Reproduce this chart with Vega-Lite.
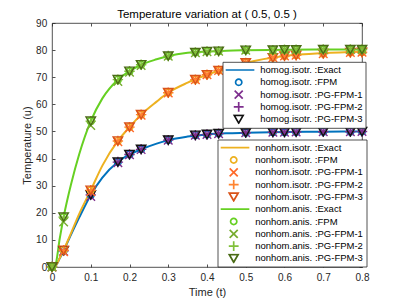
{
  "$schema": "https://vega.github.io/schema/vega-lite/v6.json",
  "width": 310,
  "height": 244,
  "autosize": {"type": "none"},
  "padding": {"left": 52, "top": 23, "right": 37, "bottom": 33},
  "background": "white",
  "title": {"text": "Temperature variation at ( 0.5, 0.5 )", "fontSize": 11.5, "fontWeight": "normal", "font": "Liberation Sans", "color": "#000000", "offset": -2, "anchor": "middle"},
  "config": {
    "font": "Liberation Sans",
    "view": {"stroke": "#262626", "strokeWidth": 0.8},
    "axis": {"grid": false, "domain": false, "tickSize": -3, "tickColor": "#262626", "tickWidth": 0.8, "labelFlush": false, "labelFont": "Liberation Sans", "labelFontSize": 10, "labelColor": "#262626", "titleFont": "Liberation Sans", "titleFontSize": 11, "titleFontWeight": "normal", "titleColor": "#262626"},
    "legend": {"orient": "none", "padding": 3, "strokeColor": "#262626", "strokeWidth": 0.8, "fillColor": "white", "labelFont": "Liberation Sans", "labelFontSize": 9.5, "labelColor": "#000000", "symbolStrokeWidth": 1.7, "symbolSize": 80, "rowPadding": 2.3, "clipHeight": 10, "labelOffset": 16, "symbolOffset": 7.5, "cornerRadius": 0, "labelLimit": 300}
  },
  "datasets": {
    "exact": [
      {"g": "h", "t": 0, "v": 0}, {"g": "h", "t": 0.008, "v": 0.3}, {"g": "h", "t": 0.02, "v": 3.2}, {"g": "h", "t": 0.03, "v": 6.0}, {"g": "h", "t": 0.05, "v": 12.2}, {"g": "h", "t": 0.07, "v": 18.2}, {"g": "h", "t": 0.1, "v": 26.6}, {"g": "h", "t": 0.13, "v": 33.0}, {"g": "h", "t": 0.17, "v": 38.7}, {"g": "h", "t": 0.2, "v": 41.5}, {"g": "h", "t": 0.23, "v": 43.4}, {"g": "h", "t": 0.27, "v": 45.5}, {"g": "h", "t": 0.3, "v": 46.8}, {"g": "h", "t": 0.35, "v": 48.1}, {"g": "h", "t": 0.4, "v": 48.9}, {"g": "h", "t": 0.45, "v": 49.3}, {"g": "h", "t": 0.5, "v": 49.5}, {"g": "h", "t": 0.6, "v": 49.8}, {"g": "h", "t": 0.7, "v": 49.9}, {"g": "h", "t": 0.8, "v": 50.0},
      {"g": "ni", "t": 0, "v": 0}, {"g": "ni", "t": 0.008, "v": 0.3}, {"g": "ni", "t": 0.02, "v": 3.3}, {"g": "ni", "t": 0.03, "v": 6.2}, {"g": "ni", "t": 0.05, "v": 12.8}, {"g": "ni", "t": 0.07, "v": 19.5}, {"g": "ni", "t": 0.1, "v": 28.3}, {"g": "ni", "t": 0.13, "v": 37.4}, {"g": "ni", "t": 0.17, "v": 46.5}, {"g": "ni", "t": 0.2, "v": 51.6}, {"g": "ni", "t": 0.23, "v": 56.2}, {"g": "ni", "t": 0.27, "v": 61.0}, {"g": "ni", "t": 0.3, "v": 64.3}, {"g": "ni", "t": 0.35, "v": 68.0}, {"g": "ni", "t": 0.4, "v": 70.9}, {"g": "ni", "t": 0.45, "v": 73.3}, {"g": "ni", "t": 0.5, "v": 75.3}, {"g": "ni", "t": 0.6, "v": 77.8}, {"g": "ni", "t": 0.7, "v": 78.9}, {"g": "ni", "t": 0.8, "v": 79.4},
      {"g": "na", "t": 0, "v": 0}, {"g": "na", "t": 0.008, "v": 0.5}, {"g": "na", "t": 0.02, "v": 10.5}, {"g": "na", "t": 0.03, "v": 18.4}, {"g": "na", "t": 0.05, "v": 31.0}, {"g": "na", "t": 0.07, "v": 41.5}, {"g": "na", "t": 0.1, "v": 53.8}, {"g": "na", "t": 0.13, "v": 62.2}, {"g": "na", "t": 0.17, "v": 69.1}, {"g": "na", "t": 0.2, "v": 72.2}, {"g": "na", "t": 0.23, "v": 74.6}, {"g": "na", "t": 0.27, "v": 76.6}, {"g": "na", "t": 0.3, "v": 77.8}, {"g": "na", "t": 0.35, "v": 79.0}, {"g": "na", "t": 0.4, "v": 79.5}, {"g": "na", "t": 0.45, "v": 79.8}, {"g": "na", "t": 0.5, "v": 79.95}, {"g": "na", "t": 0.6, "v": 80.1}, {"g": "na", "t": 0.7, "v": 80.2}, {"g": "na", "t": 0.8, "v": 80.2}
    ],
    "homog": [
      {"s": "homog.isotr. :FPM", "t": 0, "v": 0}, {"s": "homog.isotr. :FPM", "t": 0.03, "v": 6.0}, {"s": "homog.isotr. :FPM", "t": 0.1, "v": 26.6}, {"s": "homog.isotr. :FPM", "t": 0.17, "v": 38.7}, {"s": "homog.isotr. :FPM", "t": 0.2, "v": 41.5}, {"s": "homog.isotr. :FPM", "t": 0.23, "v": 43.4}, {"s": "homog.isotr. :FPM", "t": 0.3, "v": 46.8}, {"s": "homog.isotr. :FPM", "t": 0.37, "v": 48.6}, {"s": "homog.isotr. :FPM", "t": 0.4, "v": 48.9}, {"s": "homog.isotr. :FPM", "t": 0.43, "v": 49.2}, {"s": "homog.isotr. :FPM", "t": 0.5, "v": 49.5}, {"s": "homog.isotr. :FPM", "t": 0.57, "v": 49.7}, {"s": "homog.isotr. :FPM", "t": 0.6, "v": 49.7}, {"s": "homog.isotr. :FPM", "t": 0.63, "v": 49.8}, {"s": "homog.isotr. :FPM", "t": 0.7, "v": 49.9}, {"s": "homog.isotr. :FPM", "t": 0.77, "v": 49.9}, {"s": "homog.isotr. :FPM", "t": 0.8, "v": 50.0},
      {"s": "homog.isotr. :PG-FPM-1", "t": 0, "v": 0}, {"s": "homog.isotr. :PG-FPM-1", "t": 0.03, "v": 5.8}, {"s": "homog.isotr. :PG-FPM-1", "t": 0.1, "v": 26.0}, {"s": "homog.isotr. :PG-FPM-1", "t": 0.17, "v": 38.5}, {"s": "homog.isotr. :PG-FPM-1", "t": 0.2, "v": 41.4}, {"s": "homog.isotr. :PG-FPM-1", "t": 0.23, "v": 43.3}, {"s": "homog.isotr. :PG-FPM-1", "t": 0.3, "v": 46.8}, {"s": "homog.isotr. :PG-FPM-1", "t": 0.37, "v": 48.6}, {"s": "homog.isotr. :PG-FPM-1", "t": 0.4, "v": 48.9}, {"s": "homog.isotr. :PG-FPM-1", "t": 0.43, "v": 49.2}, {"s": "homog.isotr. :PG-FPM-1", "t": 0.5, "v": 49.5}, {"s": "homog.isotr. :PG-FPM-1", "t": 0.57, "v": 49.7}, {"s": "homog.isotr. :PG-FPM-1", "t": 0.6, "v": 49.7}, {"s": "homog.isotr. :PG-FPM-1", "t": 0.63, "v": 49.8}, {"s": "homog.isotr. :PG-FPM-1", "t": 0.7, "v": 49.9}, {"s": "homog.isotr. :PG-FPM-1", "t": 0.77, "v": 49.9}, {"s": "homog.isotr. :PG-FPM-1", "t": 0.8, "v": 50.0},
      {"s": "homog.isotr. :PG-FPM-2", "t": 0, "v": 0}, {"s": "homog.isotr. :PG-FPM-2", "t": 0.03, "v": 6.0}, {"s": "homog.isotr. :PG-FPM-2", "t": 0.1, "v": 26.6}, {"s": "homog.isotr. :PG-FPM-2", "t": 0.17, "v": 38.7}, {"s": "homog.isotr. :PG-FPM-2", "t": 0.2, "v": 41.5}, {"s": "homog.isotr. :PG-FPM-2", "t": 0.23, "v": 43.4}, {"s": "homog.isotr. :PG-FPM-2", "t": 0.3, "v": 46.8}, {"s": "homog.isotr. :PG-FPM-2", "t": 0.37, "v": 48.6}, {"s": "homog.isotr. :PG-FPM-2", "t": 0.4, "v": 48.9}, {"s": "homog.isotr. :PG-FPM-2", "t": 0.43, "v": 49.2}, {"s": "homog.isotr. :PG-FPM-2", "t": 0.5, "v": 49.5}, {"s": "homog.isotr. :PG-FPM-2", "t": 0.57, "v": 49.7}, {"s": "homog.isotr. :PG-FPM-2", "t": 0.6, "v": 49.7}, {"s": "homog.isotr. :PG-FPM-2", "t": 0.63, "v": 49.8}, {"s": "homog.isotr. :PG-FPM-2", "t": 0.7, "v": 49.9}, {"s": "homog.isotr. :PG-FPM-2", "t": 0.77, "v": 49.9}, {"s": "homog.isotr. :PG-FPM-2", "t": 0.8, "v": 50.0},
      {"s": "homog.isotr. :PG-FPM-3", "t": 0, "v": 0}, {"s": "homog.isotr. :PG-FPM-3", "t": 0.03, "v": 6.0}, {"s": "homog.isotr. :PG-FPM-3", "t": 0.1, "v": 26.6}, {"s": "homog.isotr. :PG-FPM-3", "t": 0.17, "v": 38.7}, {"s": "homog.isotr. :PG-FPM-3", "t": 0.2, "v": 41.5}, {"s": "homog.isotr. :PG-FPM-3", "t": 0.23, "v": 43.4}, {"s": "homog.isotr. :PG-FPM-3", "t": 0.3, "v": 46.8}, {"s": "homog.isotr. :PG-FPM-3", "t": 0.37, "v": 48.6}, {"s": "homog.isotr. :PG-FPM-3", "t": 0.4, "v": 48.9}, {"s": "homog.isotr. :PG-FPM-3", "t": 0.43, "v": 49.2}, {"s": "homog.isotr. :PG-FPM-3", "t": 0.5, "v": 49.5}, {"s": "homog.isotr. :PG-FPM-3", "t": 0.57, "v": 49.7}, {"s": "homog.isotr. :PG-FPM-3", "t": 0.6, "v": 49.7}, {"s": "homog.isotr. :PG-FPM-3", "t": 0.63, "v": 49.8}, {"s": "homog.isotr. :PG-FPM-3", "t": 0.7, "v": 49.9}, {"s": "homog.isotr. :PG-FPM-3", "t": 0.77, "v": 49.9}, {"s": "homog.isotr. :PG-FPM-3", "t": 0.8, "v": 50.0}
    ],
    "nonhom": [
      {"s": "nonhom.isotr. :FPM", "t": 0, "v": 0}, {"s": "nonhom.isotr. :FPM", "t": 0.03, "v": 6.2}, {"s": "nonhom.isotr. :FPM", "t": 0.1, "v": 28.3}, {"s": "nonhom.isotr. :FPM", "t": 0.17, "v": 46.5}, {"s": "nonhom.isotr. :FPM", "t": 0.2, "v": 51.6}, {"s": "nonhom.isotr. :FPM", "t": 0.23, "v": 56.2}, {"s": "nonhom.isotr. :FPM", "t": 0.3, "v": 64.3}, {"s": "nonhom.isotr. :FPM", "t": 0.37, "v": 69.1}, {"s": "nonhom.isotr. :FPM", "t": 0.4, "v": 70.9}, {"s": "nonhom.isotr. :FPM", "t": 0.43, "v": 72.5}, {"s": "nonhom.isotr. :FPM", "t": 0.5, "v": 75.3}, {"s": "nonhom.isotr. :FPM", "t": 0.57, "v": 77.2}, {"s": "nonhom.isotr. :FPM", "t": 0.6, "v": 77.8}, {"s": "nonhom.isotr. :FPM", "t": 0.63, "v": 78.1}, {"s": "nonhom.isotr. :FPM", "t": 0.7, "v": 78.7}, {"s": "nonhom.isotr. :FPM", "t": 0.77, "v": 79.1}, {"s": "nonhom.isotr. :FPM", "t": 0.8, "v": 79.2},
      {"s": "nonhom.isotr. :PG-FPM-1", "t": 0, "v": 0}, {"s": "nonhom.isotr. :PG-FPM-1", "t": 0.03, "v": 5.6}, {"s": "nonhom.isotr. :PG-FPM-1", "t": 0.1, "v": 27.8}, {"s": "nonhom.isotr. :PG-FPM-1", "t": 0.17, "v": 46.2}, {"s": "nonhom.isotr. :PG-FPM-1", "t": 0.2, "v": 51.4}, {"s": "nonhom.isotr. :PG-FPM-1", "t": 0.23, "v": 56.0}, {"s": "nonhom.isotr. :PG-FPM-1", "t": 0.3, "v": 64.2}, {"s": "nonhom.isotr. :PG-FPM-1", "t": 0.37, "v": 69.1}, {"s": "nonhom.isotr. :PG-FPM-1", "t": 0.4, "v": 70.9}, {"s": "nonhom.isotr. :PG-FPM-1", "t": 0.43, "v": 72.5}, {"s": "nonhom.isotr. :PG-FPM-1", "t": 0.5, "v": 75.3}, {"s": "nonhom.isotr. :PG-FPM-1", "t": 0.57, "v": 77.2}, {"s": "nonhom.isotr. :PG-FPM-1", "t": 0.6, "v": 77.8}, {"s": "nonhom.isotr. :PG-FPM-1", "t": 0.63, "v": 78.1}, {"s": "nonhom.isotr. :PG-FPM-1", "t": 0.7, "v": 78.7}, {"s": "nonhom.isotr. :PG-FPM-1", "t": 0.77, "v": 79.1}, {"s": "nonhom.isotr. :PG-FPM-1", "t": 0.8, "v": 79.2},
      {"s": "nonhom.isotr. :PG-FPM-2", "t": 0, "v": 0}, {"s": "nonhom.isotr. :PG-FPM-2", "t": 0.03, "v": 6.2}, {"s": "nonhom.isotr. :PG-FPM-2", "t": 0.1, "v": 28.3}, {"s": "nonhom.isotr. :PG-FPM-2", "t": 0.17, "v": 46.5}, {"s": "nonhom.isotr. :PG-FPM-2", "t": 0.2, "v": 51.6}, {"s": "nonhom.isotr. :PG-FPM-2", "t": 0.23, "v": 56.2}, {"s": "nonhom.isotr. :PG-FPM-2", "t": 0.3, "v": 64.3}, {"s": "nonhom.isotr. :PG-FPM-2", "t": 0.37, "v": 69.1}, {"s": "nonhom.isotr. :PG-FPM-2", "t": 0.4, "v": 70.9}, {"s": "nonhom.isotr. :PG-FPM-2", "t": 0.43, "v": 72.5}, {"s": "nonhom.isotr. :PG-FPM-2", "t": 0.5, "v": 75.3}, {"s": "nonhom.isotr. :PG-FPM-2", "t": 0.57, "v": 77.2}, {"s": "nonhom.isotr. :PG-FPM-2", "t": 0.6, "v": 77.8}, {"s": "nonhom.isotr. :PG-FPM-2", "t": 0.63, "v": 78.1}, {"s": "nonhom.isotr. :PG-FPM-2", "t": 0.7, "v": 78.7}, {"s": "nonhom.isotr. :PG-FPM-2", "t": 0.77, "v": 79.1}, {"s": "nonhom.isotr. :PG-FPM-2", "t": 0.8, "v": 79.2},
      {"s": "nonhom.isotr. :PG-FPM-3", "t": 0, "v": 0}, {"s": "nonhom.isotr. :PG-FPM-3", "t": 0.03, "v": 6.2}, {"s": "nonhom.isotr. :PG-FPM-3", "t": 0.1, "v": 28.3}, {"s": "nonhom.isotr. :PG-FPM-3", "t": 0.17, "v": 46.5}, {"s": "nonhom.isotr. :PG-FPM-3", "t": 0.2, "v": 51.6}, {"s": "nonhom.isotr. :PG-FPM-3", "t": 0.23, "v": 56.2}, {"s": "nonhom.isotr. :PG-FPM-3", "t": 0.3, "v": 64.3}, {"s": "nonhom.isotr. :PG-FPM-3", "t": 0.37, "v": 69.1}, {"s": "nonhom.isotr. :PG-FPM-3", "t": 0.4, "v": 70.9}, {"s": "nonhom.isotr. :PG-FPM-3", "t": 0.43, "v": 72.5}, {"s": "nonhom.isotr. :PG-FPM-3", "t": 0.5, "v": 75.3}, {"s": "nonhom.isotr. :PG-FPM-3", "t": 0.57, "v": 77.2}, {"s": "nonhom.isotr. :PG-FPM-3", "t": 0.6, "v": 77.8}, {"s": "nonhom.isotr. :PG-FPM-3", "t": 0.63, "v": 78.1}, {"s": "nonhom.isotr. :PG-FPM-3", "t": 0.7, "v": 78.7}, {"s": "nonhom.isotr. :PG-FPM-3", "t": 0.77, "v": 79.1}, {"s": "nonhom.isotr. :PG-FPM-3", "t": 0.8, "v": 79.2},
      {"s": "nonhom.anis. :FPM", "t": 0, "v": 0}, {"s": "nonhom.anis. :FPM", "t": 0.03, "v": 18.4}, {"s": "nonhom.anis. :FPM", "t": 0.1, "v": 53.8}, {"s": "nonhom.anis. :FPM", "t": 0.17, "v": 69.1}, {"s": "nonhom.anis. :FPM", "t": 0.2, "v": 72.2}, {"s": "nonhom.anis. :FPM", "t": 0.23, "v": 74.6}, {"s": "nonhom.anis. :FPM", "t": 0.3, "v": 77.8}, {"s": "nonhom.anis. :FPM", "t": 0.37, "v": 79.1}, {"s": "nonhom.anis. :FPM", "t": 0.4, "v": 79.5}, {"s": "nonhom.anis. :FPM", "t": 0.43, "v": 79.6}, {"s": "nonhom.anis. :FPM", "t": 0.5, "v": 79.95}, {"s": "nonhom.anis. :FPM", "t": 0.57, "v": 80.0}, {"s": "nonhom.anis. :FPM", "t": 0.6, "v": 80.1}, {"s": "nonhom.anis. :FPM", "t": 0.63, "v": 80.1}, {"s": "nonhom.anis. :FPM", "t": 0.7, "v": 80.2}, {"s": "nonhom.anis. :FPM", "t": 0.77, "v": 80.2}, {"s": "nonhom.anis. :FPM", "t": 0.8, "v": 80.2},
      {"s": "nonhom.anis. :PG-FPM-1", "t": 0, "v": 0}, {"s": "nonhom.anis. :PG-FPM-1", "t": 0.03, "v": 16.6}, {"s": "nonhom.anis. :PG-FPM-1", "t": 0.1, "v": 52.2}, {"s": "nonhom.anis. :PG-FPM-1", "t": 0.17, "v": 68.4}, {"s": "nonhom.anis. :PG-FPM-1", "t": 0.2, "v": 71.8}, {"s": "nonhom.anis. :PG-FPM-1", "t": 0.23, "v": 74.3}, {"s": "nonhom.anis. :PG-FPM-1", "t": 0.3, "v": 77.7}, {"s": "nonhom.anis. :PG-FPM-1", "t": 0.37, "v": 79.0}, {"s": "nonhom.anis. :PG-FPM-1", "t": 0.4, "v": 79.4}, {"s": "nonhom.anis. :PG-FPM-1", "t": 0.43, "v": 79.6}, {"s": "nonhom.anis. :PG-FPM-1", "t": 0.5, "v": 79.95}, {"s": "nonhom.anis. :PG-FPM-1", "t": 0.57, "v": 80.0}, {"s": "nonhom.anis. :PG-FPM-1", "t": 0.6, "v": 80.1}, {"s": "nonhom.anis. :PG-FPM-1", "t": 0.63, "v": 80.1}, {"s": "nonhom.anis. :PG-FPM-1", "t": 0.7, "v": 80.2}, {"s": "nonhom.anis. :PG-FPM-1", "t": 0.77, "v": 80.2}, {"s": "nonhom.anis. :PG-FPM-1", "t": 0.8, "v": 80.2},
      {"s": "nonhom.anis. :PG-FPM-2", "t": 0, "v": 0}, {"s": "nonhom.anis. :PG-FPM-2", "t": 0.03, "v": 18.4}, {"s": "nonhom.anis. :PG-FPM-2", "t": 0.1, "v": 53.8}, {"s": "nonhom.anis. :PG-FPM-2", "t": 0.17, "v": 69.1}, {"s": "nonhom.anis. :PG-FPM-2", "t": 0.2, "v": 72.2}, {"s": "nonhom.anis. :PG-FPM-2", "t": 0.23, "v": 74.6}, {"s": "nonhom.anis. :PG-FPM-2", "t": 0.3, "v": 77.8}, {"s": "nonhom.anis. :PG-FPM-2", "t": 0.37, "v": 79.1}, {"s": "nonhom.anis. :PG-FPM-2", "t": 0.4, "v": 79.5}, {"s": "nonhom.anis. :PG-FPM-2", "t": 0.43, "v": 79.6}, {"s": "nonhom.anis. :PG-FPM-2", "t": 0.5, "v": 79.95}, {"s": "nonhom.anis. :PG-FPM-2", "t": 0.57, "v": 80.0}, {"s": "nonhom.anis. :PG-FPM-2", "t": 0.6, "v": 80.1}, {"s": "nonhom.anis. :PG-FPM-2", "t": 0.63, "v": 80.1}, {"s": "nonhom.anis. :PG-FPM-2", "t": 0.7, "v": 80.2}, {"s": "nonhom.anis. :PG-FPM-2", "t": 0.77, "v": 80.2}, {"s": "nonhom.anis. :PG-FPM-2", "t": 0.8, "v": 80.2},
      {"s": "nonhom.anis. :PG-FPM-3", "t": 0, "v": 0}, {"s": "nonhom.anis. :PG-FPM-3", "t": 0.03, "v": 18.4}, {"s": "nonhom.anis. :PG-FPM-3", "t": 0.1, "v": 53.8}, {"s": "nonhom.anis. :PG-FPM-3", "t": 0.17, "v": 69.1}, {"s": "nonhom.anis. :PG-FPM-3", "t": 0.2, "v": 72.2}, {"s": "nonhom.anis. :PG-FPM-3", "t": 0.23, "v": 74.6}, {"s": "nonhom.anis. :PG-FPM-3", "t": 0.3, "v": 77.8}, {"s": "nonhom.anis. :PG-FPM-3", "t": 0.37, "v": 79.1}, {"s": "nonhom.anis. :PG-FPM-3", "t": 0.4, "v": 79.5}, {"s": "nonhom.anis. :PG-FPM-3", "t": 0.43, "v": 79.6}, {"s": "nonhom.anis. :PG-FPM-3", "t": 0.5, "v": 79.95}, {"s": "nonhom.anis. :PG-FPM-3", "t": 0.57, "v": 80.0}, {"s": "nonhom.anis. :PG-FPM-3", "t": 0.6, "v": 80.1}, {"s": "nonhom.anis. :PG-FPM-3", "t": 0.63, "v": 80.1}, {"s": "nonhom.anis. :PG-FPM-3", "t": 0.7, "v": 80.2}, {"s": "nonhom.anis. :PG-FPM-3", "t": 0.77, "v": 80.2}, {"s": "nonhom.anis. :PG-FPM-3", "t": 0.8, "v": 80.2}
    ]
  },
  "layer": [
    {
      "data": {"name": "exact"},
      "transform": [{"filter": "datum.g == 'h'"}],
      "mark": {"type": "line", "color": "#0072BD", "strokeWidth": 2, "interpolate": "monotone"},
      "encoding": {
        "x": {"field": "t", "type": "quantitative", "scale": {"domain": [0, 0.8], "nice": false}, "axis": {"orient": "bottom", "title": "Time (t)", "values": [0, 0.1, 0.2, 0.3, 0.4, 0.5, 0.6, 0.7, 0.8], "format": "~g", "labelPadding": 8.5, "titlePadding": 4}},
        "y": {"field": "v", "type": "quantitative", "scale": {"domain": [0, 90], "nice": false}, "axis": {"orient": "left", "title": "Temperature (u)", "values": [0, 10, 20, 30, 40, 50, 60, 70, 80, 90], "labelPadding": 8.3, "titlePadding": 3}}
      }
    },
    {
      "data": {"name": "exact"},
      "transform": [{"filter": "datum.g == 'ni'"}],
      "mark": {"type": "line", "color": "#EDB120", "strokeWidth": 2, "interpolate": "monotone"},
      "encoding": {
        "x": {"field": "t", "type": "quantitative", "scale": {"domain": [0, 0.8], "nice": false}, "axis": {"orient": "top", "title": null, "labels": false, "values": [0, 0.1, 0.2, 0.3, 0.4, 0.5, 0.6, 0.7, 0.8]}},
        "y": {"field": "v", "type": "quantitative", "scale": {"domain": [0, 90], "nice": false}, "axis": {"orient": "right", "title": null, "labels": false, "values": [0, 10, 20, 30, 40, 50, 60, 70, 80, 90]}}
      }
    },
    {
      "data": {"name": "exact"},
      "transform": [{"filter": "datum.g == 'na'"}],
      "mark": {"type": "line", "color": "#66D022", "strokeWidth": 2, "interpolate": "monotone"},
      "encoding": {
        "x": {"field": "t", "type": "quantitative", "scale": {"domain": [0, 0.8], "nice": false}, "axis": null},
        "y": {"field": "v", "type": "quantitative", "scale": {"domain": [0, 90], "nice": false}, "axis": null}
      }
    },
    {
      "data": {"name": "homog"},
      "mark": {"type": "point", "filled": false, "strokeWidth": 1.4, "size": 90, "opacity": 1},
      "encoding": {
        "x": {"field": "t", "type": "quantitative", "scale": {"domain": [0, 0.8], "nice": false}, "axis": null},
        "y": {"field": "v", "type": "quantitative", "scale": {"domain": [0, 90], "nice": false}, "axis": null},
        "color": {"field": "s", "type": "nominal", "scale": {"domain": ["homog.isotr. :Exact", "homog.isotr. :FPM", "homog.isotr. :PG-FPM-1", "homog.isotr. :PG-FPM-2", "homog.isotr. :PG-FPM-3"], "range": ["#0072BD", "#0072BD", "#7E2F8E", "#7E2F8E", "#111111"]}, "legend": {"title": null, "orient": "none", "legendX": 170.7, "legendY": 39}},
        "shape": {"field": "s", "type": "nominal", "scale": {"domain": ["homog.isotr. :Exact", "homog.isotr. :FPM", "homog.isotr. :PG-FPM-1", "homog.isotr. :PG-FPM-2", "homog.isotr. :PG-FPM-3"], "range": ["M-3.5,0H3.5", "M0.7,0A0.7,0.7 0 1,1 -0.7,0A0.7,0.7 0 1,1 0.7,0Z", "M-0.9,-0.9L0.9,0.9M-0.9,0.9L0.9,-0.9", "M-1.1,0H1.1M0,-1.1V1.1", "triangle-down"]}, "legend": {"title": null, "orient": "none", "legendX": 170.7, "legendY": 39}}
      }
    },
    {
      "data": {"name": "nonhom"},
      "mark": {"type": "point", "filled": false, "strokeWidth": 1.4, "size": 90, "opacity": 1},
      "encoding": {
        "x": {"field": "t", "type": "quantitative", "scale": {"domain": [0, 0.8], "nice": false}, "axis": null},
        "y": {"field": "v", "type": "quantitative", "scale": {"domain": [0, 90], "nice": false}, "axis": null},
        "color": {"field": "s", "type": "nominal", "scale": {"domain": ["nonhom.isotr. :Exact", "nonhom.isotr. :FPM", "nonhom.isotr. :PG-FPM-1", "nonhom.isotr. :PG-FPM-2", "nonhom.isotr. :PG-FPM-3", "nonhom.anis. :Exact", "nonhom.anis. :FPM", "nonhom.anis. :PG-FPM-1", "nonhom.anis. :PG-FPM-2", "nonhom.anis. :PG-FPM-3"], "range": ["#EDB120", "#EDB120", "#FF6A2A", "#FF8430", "#D95319", "#66D022", "#66D022", "#77AC30", "#80C03A", "#4A6B16"]}, "legend": {"title": null, "orient": "none", "legendX": 165.7, "legendY": 116.7}},
        "shape": {"field": "s", "type": "nominal", "scale": {"domain": ["nonhom.isotr. :Exact", "nonhom.isotr. :FPM", "nonhom.isotr. :PG-FPM-1", "nonhom.isotr. :PG-FPM-2", "nonhom.isotr. :PG-FPM-3", "nonhom.anis. :Exact", "nonhom.anis. :FPM", "nonhom.anis. :PG-FPM-1", "nonhom.anis. :PG-FPM-2", "nonhom.anis. :PG-FPM-3"], "range": ["M-3.5,0H3.5", "M0.7,0A0.7,0.7 0 1,1 -0.7,0A0.7,0.7 0 1,1 0.7,0Z", "M-0.9,-0.9L0.9,0.9M-0.9,0.9L0.9,-0.9", "M-1.1,0H1.1M0,-1.1V1.1", "triangle-down", "M-3.5,0H3.5", "M0.7,0A0.7,0.7 0 1,1 -0.7,0A0.7,0.7 0 1,1 0.7,0Z", "M-0.9,-0.9L0.9,0.9M-0.9,0.9L0.9,-0.9", "M-1.1,0H1.1M0,-1.1V1.1", "triangle-down"]}, "legend": {"title": null, "orient": "none", "legendX": 165.7, "legendY": 116.7}}
      }
    }
  ],
  "resolve": {"scale": {"color": "independent", "shape": "independent"}, "axis": {"x": "independent", "y": "independent"}}
}
